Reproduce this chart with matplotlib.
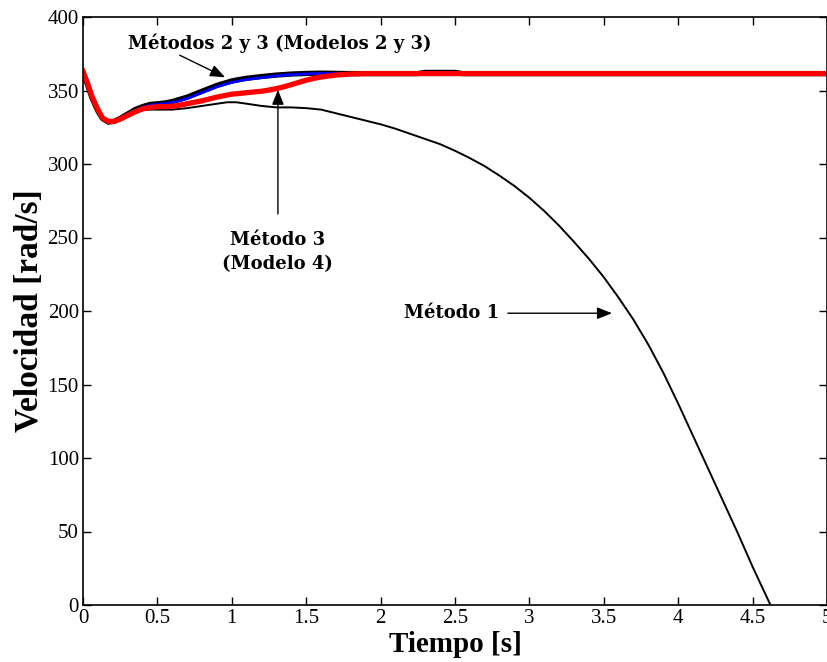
import matplotlib
matplotlib.use('Agg')
import matplotlib.pyplot as plt
import numpy as np

# Método 1 (línea negra fina)
t_m1 = [0, 0.03, 0.06, 0.1, 0.13, 0.17, 0.21, 0.25, 0.3, 0.35, 0.4, 0.45, 0.5, 0.55, 0.6,
        0.7, 0.8, 0.9, 0.97, 1.03, 1.1, 1.2, 1.3, 1.4, 1.5, 1.6, 1.7, 1.8, 1.9, 2.0, 2.1,
        2.2, 2.3, 2.4, 2.5, 2.6, 2.7, 2.8, 2.9, 3.0, 3.1, 3.2, 3.3, 3.4, 3.5, 3.6, 3.7,
        3.8, 3.9, 4.0, 4.1, 4.2, 4.3, 4.4, 4.5, 4.62]
v_m1 = [362, 354, 345, 336, 331, 328.5, 329, 330.5, 333, 335, 336.5, 337, 337, 337, 337,
        338, 339.5, 341, 342, 342, 341, 339.5, 338.5, 338.5, 338, 337, 334.5, 332, 329.5,
        327, 324, 320.5, 317, 313.5, 309, 304, 298.5, 292, 285, 277, 268, 258, 247, 235.5,
        223, 209, 194, 177, 158, 137, 115, 93, 71, 49, 26, 0]

# Métodos 2 y 3 (Modelo 2, línea negra gruesa)
t_m2 = [0, 0.03, 0.06, 0.1, 0.13, 0.17, 0.21, 0.25, 0.3, 0.35, 0.4, 0.45, 0.5, 0.55,
        0.6, 0.65, 0.7, 0.75, 0.8, 0.85, 0.9, 0.95, 1.0, 1.05, 1.1, 1.2, 1.3, 1.4, 1.5,
        1.6, 1.8, 2.25, 2.3, 2.5, 2.55, 5.0]
v_m2 = [362, 354, 345, 336, 331, 328.5, 329, 331, 334, 337, 339, 340.5, 341, 341.5,
        342.5, 344, 345.5, 347.5, 349.5, 351.5, 353.5, 355, 356.5, 357.5, 358.3, 359.5,
        360.5, 361.2, 361.6, 361.8, 361.5, 361.5, 362.3, 362.3, 361.5, 361.5]

# Métodos 2 y 3 (Modelo 3, línea azul)
t_m3 = [0, 0.03, 0.06, 0.1, 0.13, 0.17, 0.21, 0.25, 0.3, 0.35, 0.4, 0.45, 0.5, 0.55,
        0.6, 0.65, 0.7, 0.75, 0.8, 0.85, 0.9, 0.95, 1.0, 1.05, 1.1, 1.2, 1.3, 1.4, 1.5,
        1.6, 1.8, 5.0]
v_m3 = [362, 354, 345, 336, 331, 328.5, 329, 331, 334, 336.5, 338.5, 340, 340.5, 341,
        341.8, 343, 344.5, 346.5, 348.5, 350.5, 352.5, 354, 355.5, 356.5, 357.5, 358.8,
        360, 360.8, 361.3, 361.6, 361.5, 361.5]

# Método 3 (Modelo 4, línea roja)
t_m4 = [0, 0.03, 0.06, 0.1, 0.13, 0.17, 0.21, 0.25, 0.3, 0.35, 0.4, 0.45, 0.5, 0.55,
        0.6, 0.65, 0.7, 0.8, 0.9, 1.0, 1.1, 1.2, 1.25, 1.3, 1.35, 1.4, 1.45, 1.5, 1.55,
        1.6, 1.7, 1.8, 1.9, 5.0]
v_m4 = [363, 355, 346, 337, 331.5, 329, 329, 330.5, 333, 335.5, 337.5, 338.5, 339,
        339, 339.3, 340, 341, 343, 345.5, 347.5, 348.5, 349.5, 350.3, 351.3, 352.5,
        354, 355.5, 357, 358.2, 359.2, 360.5, 361.2, 361.5, 361.5]

x_ticks = np.arange(0, 5.01, 0.5)
x_labels = ['0', '0.5', '1', '1.5', '2', '2.5', '3', '3.5', '4', '4.5', '5']
y_ticks = np.arange(0, 401, 50)

fig = plt.figure(figsize=(8.28, 6.62), dpi=100)
ax = fig.add_axes([83 / 828, 1 - 605 / 662, 744 / 828, 588 / 662])

ax.plot(t_m1, v_m1, color='black', lw=1.4)
ax.plot(t_m2, v_m2, color='black', lw=3.8)
ax.plot(t_m3, v_m3, color='blue', lw=2.0)
ax.plot(t_m4, v_m4, color='red', lw=3.8)

ax.set_xlim(0, 5)
ax.set_ylim(0, 400)
ax.set_xticks(x_ticks)
ax.set_xticklabels(x_labels)
ax.set_yticks(y_ticks)
ax.tick_params(direction='in', top=True, right=True, length=6, width=1,
               labelsize=15, pad=3)
for lbl in ax.get_xticklabels() + ax.get_yticklabels():
    lbl.set_fontfamily('Liberation Serif')
for s in ax.spines.values():
    s.set_linewidth(1.2)

ax.set_xlabel('Tiempo [s]', family='Liberation Serif', weight='bold', fontsize=21,
              labelpad=2)
ax.set_ylabel('Velocidad [rad/s]', family='Liberation Serif', weight='bold', fontsize=24,
              labelpad=2)

ann = dict(family='DejaVu Serif', weight='bold', fontsize=13)
arrow = dict(arrowstyle='-|>,head_length=0.75,head_width=0.3', color='black', lw=1,
             shrinkA=0, shrinkB=0, mutation_scale=12)

ax.text(1.32, 382, 'Métodos 2 y 3 (Modelos 2 y 3)', ha='center', va='center', **ann)
ax.annotate('', xy=(0.955, 359), xytext=(0.65, 374), arrowprops=arrow)

ax.text(1.31, 240, 'Método 3\n(Modelo 4)', ha='center', va='center',
        linespacing=1.45, **ann)
ax.annotate('', xy=(1.31, 350.5), xytext=(1.31, 266), arrowprops=arrow)

ax.text(2.48, 198.5, 'Método 1', ha='center', va='center', **ann)
ax.annotate('', xy=(3.555, 198.5), xytext=(2.855, 198.5), arrowprops=arrow)

fig.savefig('out.png', dpi=100)
